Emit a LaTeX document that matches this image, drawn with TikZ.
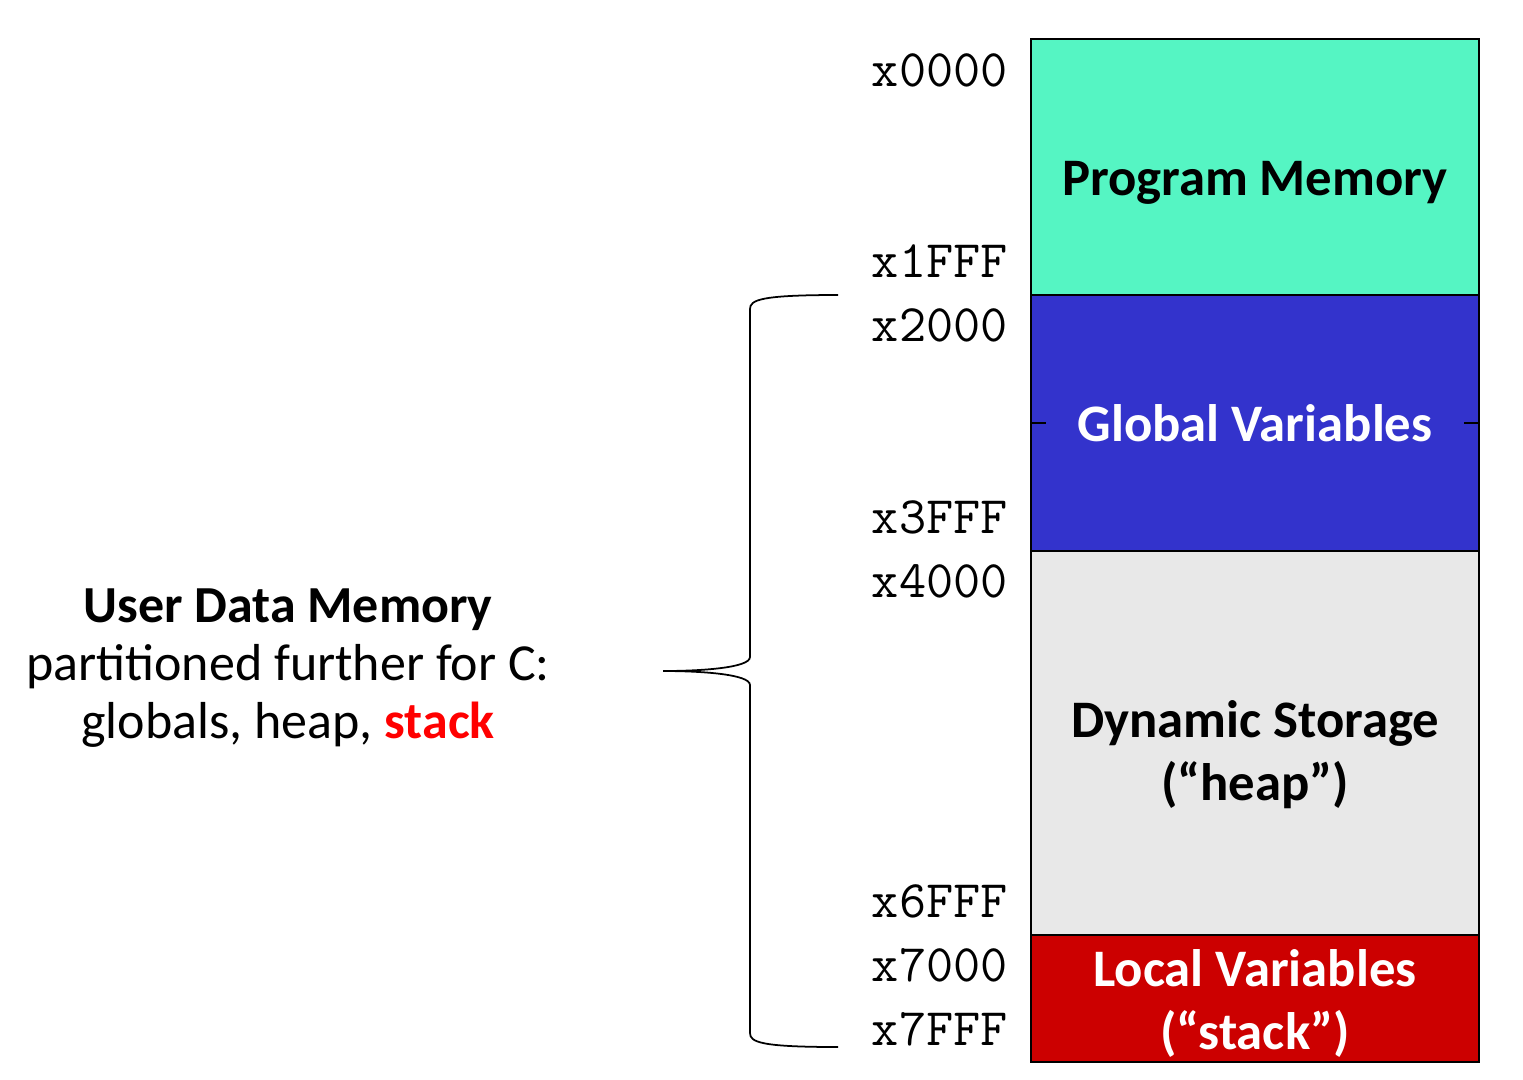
\documentclass[tikz,border=0pt]{standalone}
\usepackage{fontspec}
\setmainfont{Carlito}
\usepackage{xcolor}
\usetikzlibrary{positioning}
\definecolor{progcol}{HTML}{55F5C3}
\definecolor{globcol}{HTML}{3333CC}
\definecolor{dyncol}{HTML}{E8E8E8}
\definecolor{loccol}{HTML}{CC0000}
\definecolor{stackred}{HTML}{FF0000}
\tikzset{
    region/.style={rectangle, draw=black, line width=1.2pt, outer sep=0pt, minimum width=8.96cm, anchor=north west},
    regtext/.style={align=center, font=\bfseries\fontsize{30}{36}\selectfont},
    addr/.style={anchor=base east, inner sep=0pt, font=\ttfamily\fontsize{30}{30}\selectfont},
    brace/.style={draw=black, line width=1pt},
}
\begin{document}
\begin{tikzpicture}[x=0.02cm, y=-0.02cm]
                        \useasboundingbox (0,0) rectangle (1523,1079);
                        \node [region, fill=progcol, minimum height=5.12cm] (prog) at (1031,39) {};
                        \node [region, fill=globcol, minimum height=5.12cm] (glob) [below=0pt of prog] {};
                        \node [region, fill=dyncol, minimum height=7.68cm] (dyn) [below=0pt of glob] {};
                        \node [region, fill=loccol, minimum height=2.54cm] (loc) [below=0pt of dyn] {};
                        \node [regtext] (progtxt) at ([yshift=-0.32cm]prog.center) {Program Memory};
                        \node [regtext, text=white] (globtxt) at (glob.center) {Global Variables};
                        \node [regtext, text=white] (loctxt) at ([yshift=-0.1cm]loc.center) {Local Variables\\(“stack”)};
                        \node [regtext] (dyntxt) at ([yshift=-0.24cm]dyn.center) {Dynamic Storage\\(“heap”)};
                        \draw[line width=1.2pt] (glob.west) -- ++(15,0);
                        \draw[line width=1.2pt] (glob.east) -- ++(-15,0);
                        % addresses
                        \foreach \lab/\yy in {x0000/86, x1FFF/277, x2000/341, x3FFF/533, x4000/597, x6FFF/917, x7000/981, x7FFF/1045}
                            \node [addr] (\lab) at (1008,\yy) {\lab};
                        \node [align=center, font=\fontsize{29.6}{33}\selectfont] (udm) at (288,668) {\textbf{User Data Memory}\\partitioned further for C:\\globals, heap, \textcolor{stackred}{\textbf{stack}}};
                        \coordinate (btop) at (838,295);
                        \coordinate (btip) at (663,671);
                        \coordinate (bbot) at (838,1047);
                        \draw[brace] (btop) .. controls (760,295) and (750,300) .. (750,309) -- (750,657) .. controls (750,668) and (700,671) .. (btip) .. controls (700,671) and (750,674) .. (750,685) -- (750,1033) .. controls (750,1042) and (760,1047) .. (bbot);
                    \end{tikzpicture}
\end{document}
